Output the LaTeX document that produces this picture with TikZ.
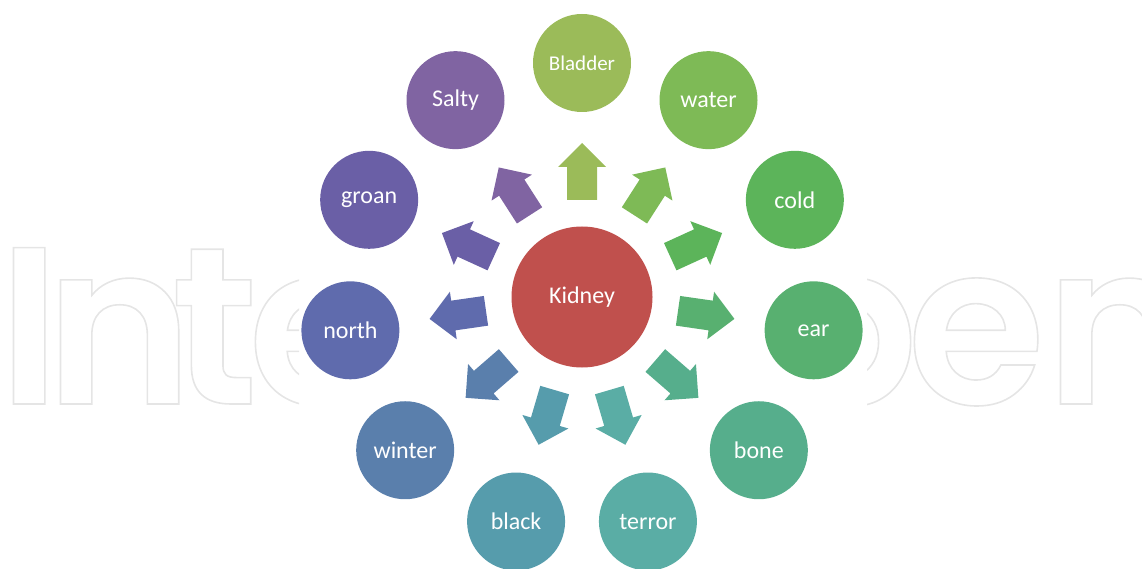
\documentclass[tikz,border=0pt]{standalone}
\usepackage{fontspec}
\setmainfont{Carlito}
\newfontfamily\wmfont{Poppins SemiBold}
\definecolor{wmgray}{HTML}{E6E6E6}
\definecolor{cKidney}{HTML}{C0504D}
\definecolor{cBladder}{HTML}{9BBB59}
\definecolor{cWater}{HTML}{7EBA56}
\definecolor{cCold}{HTML}{5CB45A}
\definecolor{cEar}{HTML}{58B070}
\definecolor{cBone}{HTML}{56AE8C}
\definecolor{cTerror}{HTML}{5AADA5}
\definecolor{cBlack}{HTML}{569CAC}
\definecolor{cWinter}{HTML}{5A7FAC}
\definecolor{cNorth}{HTML}{5F6BAD}
\definecolor{cGroan}{HTML}{6A5FA6}
\definecolor{cSalty}{HTML}{8064A2}
\tikzset{
  wm/.style={inner sep=0pt, outer sep=0pt, anchor=base west, text=wmgray,
    font=\wmfont\fontsize{224}{224}\selectfont},
  bubble/.style={circle, minimum size=98pt, inner sep=0pt, text=white},
  hub/.style={circle, minimum size=141pt, inner sep=0pt, text=white,
    fill=cKidney, font=\fontsize{24}{24}\selectfont},
}
\newcommand{\wmtext}[1]{\special{pdf:literal direct 1 Tr 1.6 w 0.9 0.9 0.9 RG}#1\special{pdf:literal direct 0 Tr}}
\begin{document}
\begin{tikzpicture}[x=1pt,y=1pt]
\useasboundingbox (0,0) rectangle (1142,568);
% watermark, partly hidden behind the diagram
\begin{scope}
  \clip (0,0) rectangle (299,568);
  \node[wm] (wI) at (-2,164) {\wmtext{I}};
  \node[wm] (wn) at (45,164) {\wmtext{n}};
  \node[wm] (wt) at (171,164) {\wmtext{t}};
  \node[wm] (we) at (248,164) {\wmtext{e}};
\end{scope}
\begin{scope}
  \clip (867,0) rectangle (1142,568);
  \node[wm, anchor=base east] (wp) at (918,164) {\wmtext{p}};
  \node[wm] (we2) at (907,164) {\wmtext{e}};
  \node[wm] (wn2) at (1045,164) {\wmtext{n}};
\end{scope}
% hub
\node[hub] (K) at (582,271) {Kidney};
% arrows and bubbles
\foreach \i/\lab/\c/\fs in {0/Bladder/cBladder/21,1/water/cWater/24,2/cold/cCold/24,
  3/ear/cEar/24,4/bone/cBone/24,5/terror/cTerror/24,6/black/cBlack/24,
  7/winter/cWinter/24,8/north/cNorth/24,9/groan/cGroan/24,10/Salty/cSalty/24}{
  \pgfmathsetmacro\a{90-\i*360/11}
  \begin{scope}[shift={(K.center)}, rotate=\a]
    \fill[\c] (97,-15) -- (130,-15) -- (130,-24) -- (154,0) -- (130,24)
      -- (130,15) -- (97,15) -- cycle;
  \end{scope}
  \node[bubble, fill=\c, font=\fontsize{\fs}{\fs}\selectfont] (\lab)
    at ([shift={(\a:234)}]K.center) {\lab};
}
\end{tikzpicture}
\end{document}
